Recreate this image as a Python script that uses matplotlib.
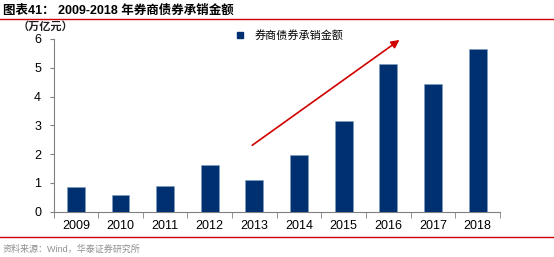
import matplotlib
matplotlib.use("Agg")
import matplotlib.pyplot as plt
from matplotlib.lines import Line2D
import numpy as np

plt.rcParams['font.family'] = ['Liberation Sans', 'Noto Sans CJK SC', 'DejaVu Sans']

years = ['2009', '2010', '2011', '2012', '2013', '2014', '2015', '2016', '2017', '2018']
values = [0.85, 0.58, 0.89, 1.61, 1.09, 1.98, 3.15, 5.14, 4.42, 5.66]
yticks = [0, 1, 2, 3, 4, 5, 6]
series_name = '券商债券承销金额'
title = '图表41： 2009-2018 年券商债券承销金额'
unit = '（万亿元）'
source = '资料来源：Wind，华泰证券研究所'
arrow_start = (3.9, 2.25)
arrow_end = (7.3, 6.02)

bar_color = '#003070'
red = '#d00000'

fig = plt.figure(figsize=(5.54, 2.57), dpi=100)
ax = fig.add_axes([0.0966, 0.1763, 0.8059, 0.6723])

x = np.arange(len(years))
ax.bar(x, values, width=0.4, color=bar_color, edgecolor='#7f9fc0', linewidth=0.4, zorder=3)
ax.set_xlim(-0.5, len(years) - 0.5)
ax.set_ylim(0, 6)
ax.set_yticks(yticks)
ax.set_yticklabels([str(v) for v in yticks], fontsize=9)
ax.set_xticks(x)
ax.set_xticklabels(years, fontsize=9)
ax.tick_params(axis='x', length=0, pad=6)
ax.set_xticks(np.arange(-0.5, len(years)), minor=True)
ax.tick_params(axis='x', which='minor', length=4, direction='out', color='#808080')
ax.tick_params(axis='y', length=3, direction='out', color='#808080', pad=6)
for s in ['top', 'right']:
    ax.spines[s].set_visible(False)
ax.spines['left'].set_color('#808080')
ax.spines['bottom'].set_color('#808080')

ax.annotate('', xy=arrow_end, xytext=arrow_start, annotation_clip=False,
            arrowprops=dict(arrowstyle='-|>', color=red, lw=1.2, mutation_scale=12))

# legend
ax.legend(handles=[Line2D([], [], marker='s', color=bar_color, linestyle='None', markersize=5)],
          labels=[series_name], loc='upper left', bbox_to_anchor=(0.37, 1.11),
          frameon=False, handletextpad=0.3, prop={'family': ['Noto Sans CJK SC'], 'size': 8})

fig.text(0.032, 0.897, unit, fontsize=8, fontweight='bold', color='#202020', va='center',
         family=['Noto Sans CJK SC'])
fig.text(0.005, 0.958, title, fontsize=9, fontweight='bold', color='#000000', va='center',
         family=['Liberation Sans', 'Noto Sans CJK SC'])
fig.add_artist(Line2D([0.0, 1.0], [0.925, 0.925], color=red, lw=1.0, transform=fig.transFigure))
fig.add_artist(Line2D([0.0, 1.0], [0.077, 0.077], color=red, lw=1.0, transform=fig.transFigure))
fig.text(0.005, 0.03, source, fontsize=6.5, color='#909090', va='center',
         family=['Liberation Sans', 'Noto Sans CJK SC'])

fig.savefig('out.png', dpi=100)
